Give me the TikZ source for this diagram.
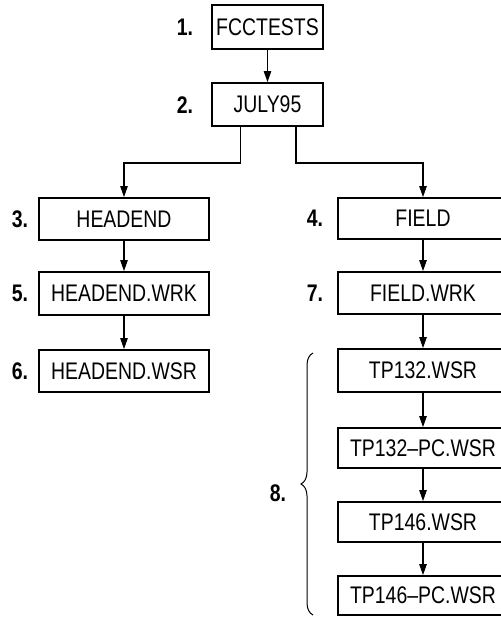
\documentclass[tikz,border=0pt]{standalone}
\usepackage{fontspec}
\setmainfont{Liberation Sans}[FakeStretch=0.81]
\usetikzlibrary{arrows.meta,decorations.pathreplacing}
\begin{document}
\begin{tikzpicture}[x=1pt,y=-1pt,
  box/.style={draw, line width=1.9pt, minimum width=170pt, minimum height=42pt, inner sep=0pt,
    font=\fontsize{24}{28}\selectfont},
  smallbox/.style={box, minimum width=111pt, minimum height=44pt},
  num/.style={font=\fontsize{24}{28}\selectfont\bfseries},
  conn/.style={line width=1.1pt, -{Triangle[length=11pt,width=7.5pt]}}
]
\useasboundingbox (0,0) rectangle (500,617);
\node[smallbox] (n1) at (267.5,27) {FCCTESTS};
\node[smallbox, minimum height=43pt] (n2) at (267.5,104.5) {JULY95};
\node[box] (n3) at (124,219) {HEADEND};
\node[box, minimum height=43pt] (n5) at (124,293.5) {HEADEND.WRK};
\node[box] (n6) at (124,371) {HEADEND.WSR};
\node[box, minimum height=41pt] (n4) at (423,218.5) {FIELD};
\node[box] (n7) at (423,293) {FIELD.WRK};
\node[box, minimum height=43pt] (n8a) at (423,370.5) {TP132.WSR};
\node[box, minimum height=40pt] (n8b) at (423,448) {TP132--PC.WSR};
\node[box, minimum height=40pt] (n8c) at (423,522) {TP146.WSR};
\node[box, minimum height=39pt] (n8d) at (423,595.5) {TP146--PC.WSR};
\node[num] (l1) at (185,27) {1.};
\node[num] (l2) at (185,105) {2.};
\node[num] (l3) at (20,219) {3.};
\node[num] (l5) at (20,293) {5.};
\node[num] (l6) at (20,371) {6.};
\node[num] (l4) at (315,218) {4.};
\node[num] (l7) at (315,293) {7.};
\node[num] (l8) at (278,493) {8.};
\draw[conn] (n1) -- (n2);
\draw[conn] (n2.south -| 240.7,0) -- (240.7,163) -| (n3.north);
\draw[conn] (n2.south -| 296,0) -- (296,163) -| (n4.north);
\draw[conn] (n3) -- (n5);
\draw[conn] (n5) -- (n6);
\draw[conn] (n4) -- (n7);
\draw[conn] (n7) -- (n8a);
\draw[conn] (n8a) -- (n8b);
\draw[conn] (n8b) -- (n8c);
\draw[conn] (n8c) -- (n8d);
\coordinate (bb) at (313,615);
\coordinate (bt) at (313,353);
\draw[line width=1pt, decorate, decoration={brace, amplitude=12pt}] (bb) -- (bt);
\end{tikzpicture}
\end{document}
